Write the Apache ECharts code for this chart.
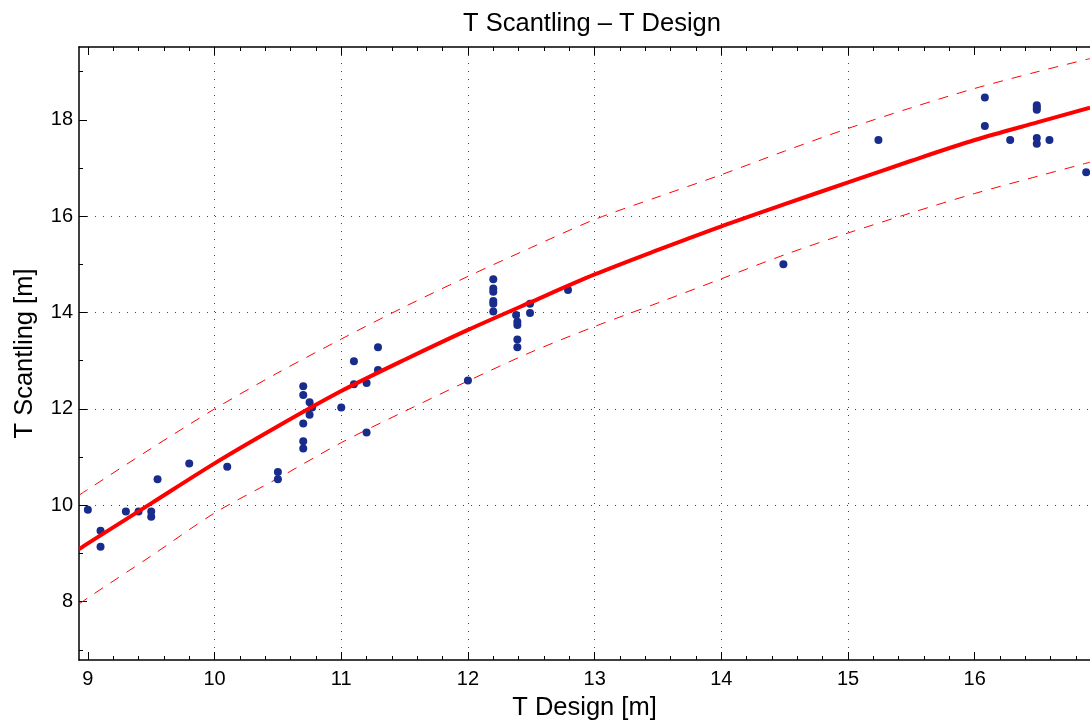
<!DOCTYPE html>
<html>
<head>
<meta charset="utf-8">
<script src="https://cdn.jsdelivr.net/npm/echarts@6/dist/echarts.min.js"></script>
<style>
html,body{margin:0;padding:0;background:#fff;}
#c{width:1090px;height:720px;}
</style>
</head>
<body>
<div id="c"></div>
<script>
// Measured points: T Design [m] vs T Scantling [m]
const pointX = [9.0, 9.1, 9.1, 9.3, 9.4, 9.5, 9.5, 9.55, 9.8, 10.1, 10.5, 10.5,
  10.7, 10.7, 10.75, 10.77, 10.75, 10.7, 10.7, 10.7, 11.0, 11.1, 11.1, 11.2, 11.2, 11.29, 11.29,
  12.0, 12.2, 12.2, 12.2, 12.2, 12.2, 12.2, 12.38, 12.39, 12.39, 12.39, 12.39, 12.49, 12.49, 12.79,
  14.49, 15.24, 16.08, 16.08, 16.28, 16.49, 16.49, 16.49, 16.49, 16.49, 16.59, 16.88];
const pointY = [9.91, 9.47, 9.14, 9.87, 9.87, 9.87, 9.76, 10.54, 10.87, 10.80, 10.69, 10.54,
  12.47, 12.29, 12.14, 12.03, 11.88, 11.70, 11.33, 11.18, 12.03, 12.99, 12.51, 12.54, 11.51, 13.28, 12.81,
  12.59, 14.69, 14.50, 14.43, 14.24, 14.18, 14.02, 13.95, 13.81, 13.74, 13.44, 13.28, 14.18, 13.99, 14.47,
  15.00, 17.58, 18.46, 17.87, 17.58, 18.30, 18.25, 18.21, 17.62, 17.50, 17.58, 16.91];

// Fitted curve and prediction band
const fitX = [8.93, 9.0, 9.5, 10.0, 10.5, 11.0, 11.5, 12.0, 12.5, 13.0, 13.5, 14.0, 14.5, 15.0, 15.5, 16.0, 16.5, 16.91];
const fitY = [9.09, 9.21, 10.04, 10.87, 11.64, 12.37, 13.02, 13.64, 14.22, 14.79, 15.30, 15.79, 16.25, 16.70, 17.15, 17.58, 17.95, 18.25];
const upperY = [10.21, 10.33, 11.18, 12.00, 12.75, 13.45, 14.12, 14.75, 15.35, 15.93, 16.40, 16.86, 17.35, 17.82, 18.25, 18.65, 19.00, 19.27];
const lowerY = [7.95, 8.08, 8.95, 9.84, 10.56, 11.30, 11.95, 12.58, 13.18, 13.71, 14.20, 14.70, 15.20, 15.65, 16.07, 16.47, 16.83, 17.12];

// Axis ticks
const xMajorTicks = [9, 10, 11, 12, 13, 14, 15, 16];
const yMajorTicks = [8, 10, 12, 14, 16, 18];
const yMinorTicks = [7, 9, 11, 13, 15, 17, 19];
const X_MIN = 8.93, X_MAX = 16.91, Y_MIN = 6.79, Y_MAX = 19.51;

const xMinorTicks = [];
for (let i = 0; i <= 40; i++) {
  const v = Math.round((9 + i * 0.2) * 10) / 10;
  if (v > X_MAX) break;
  if (Math.abs(v - Math.round(v)) > 1e-6) xMinorTicks.push(v);
}

const FONT = "'Liberation Sans', Arial, Helvetica, sans-serif";
const pair = (xs, ys) => xs.map((x, i) => [x, ys[i]]);

function xAx(opts) {
  return Object.assign({
    type: 'value', min: X_MIN, max: X_MAX, gridIndex: 0,
    axisLine: { show: false }, axisLabel: { show: false }, splitLine: { show: false },
    axisTick: { show: false }
  }, opts);
}
function yAx(opts) {
  return Object.assign({
    type: 'value', min: Y_MIN, max: Y_MAX, gridIndex: 0,
    axisLine: { show: false }, axisLabel: { show: false }, splitLine: { show: false },
    axisTick: { show: false }
  }, opts);
}

const chart = echarts.init(document.getElementById('c'), null, { renderer: 'canvas' });
chart.setOption({
  animation: false,
  backgroundColor: '#fff',
  textStyle: { fontFamily: FONT },
  title: {
    text: 'T Scantling \u2013 T Design',
    left: 587, top: 6, textAlign: 'center',
    textStyle: { fontFamily: FONT, fontSize: 25.5, fontWeight: 'normal', color: '#000' }
  },
  grid: { left: 79, right: 0, top: 47, bottom: 60, containLabel: false, outerBoundsMode: 'none' },
  xAxis: [
    xAx({
      position: 'bottom',
      name: 'T Design [m]', nameLocation: 'middle', nameGap: 35,
      nameTextStyle: { fontFamily: FONT, fontSize: 25.5, color: '#000' },
      axisLine: { show: true, onZero: false, lineStyle: { color: '#000', width: 1.5 } },
      axisTick: { show: true, inside: true, length: 8, customValues: xMajorTicks, lineStyle: { color: '#000', width: 1 } },
      axisLabel: { show: true, customValues: xMajorTicks, margin: 9, fontFamily: FONT, fontSize: 20, color: '#000' },
      splitLine: { show: true, showMinLine: false, showMaxLine: false, lineStyle: { color: '#444', width: 1, type: [1, 7] } }
    }),
    xAx({
      position: 'bottom',
      axisTick: { show: true, inside: true, length: 4, customValues: xMinorTicks, lineStyle: { color: '#000', width: 1 } }
    }),
    xAx({
      position: 'top',
      axisLine: { show: true, onZero: false, lineStyle: { color: '#000', width: 1.5 } },
      axisTick: { show: true, inside: true, length: 8, customValues: xMajorTicks, lineStyle: { color: '#000', width: 1 } }
    }),
    xAx({
      position: 'top',
      axisTick: { show: true, inside: true, length: 4, customValues: xMinorTicks, lineStyle: { color: '#000', width: 1 } }
    })
  ],
  yAxis: [
    yAx({
      position: 'left',
      name: 'T Scantling [m]', nameLocation: 'middle', nameGap: 41, nameRotate: 90,
      nameTextStyle: { fontFamily: FONT, fontSize: 25.5, color: '#000' },
      axisLine: { show: true, onZero: false, lineStyle: { color: '#000', width: 1.5 } },
      axisTick: { show: true, inside: true, length: 8, customValues: yMajorTicks, lineStyle: { color: '#000', width: 1 } },
      axisLabel: { show: true, customValues: yMajorTicks, margin: 6, fontFamily: FONT, fontSize: 20, color: '#000' },
      splitLine: { show: true, showMinLine: false, showMaxLine: false, lineStyle: { color: '#444', width: 1, type: [1, 7] } }
    }),
    yAx({
      position: 'left',
      axisTick: { show: true, inside: true, length: 4, customValues: yMinorTicks, lineStyle: { color: '#000', width: 1 } }
    })
  ],
  series: [
    {
      type: 'line', name: 'upper', xAxisIndex: 0, yAxisIndex: 0,
      data: pair(fitX, upperY), smooth: 0.3, showSymbol: false, symbol: 'none',
      lineStyle: { color: '#ff0000', width: 1, type: [10, 9] }, z: 3
    },
    {
      type: 'line', name: 'lower', xAxisIndex: 0, yAxisIndex: 0,
      data: pair(fitX, lowerY), smooth: 0.3, showSymbol: false, symbol: 'none',
      lineStyle: { color: '#ff0000', width: 1, type: [10, 9] }, z: 3
    },
    {
      type: 'scatter', name: 'data', xAxisIndex: 0, yAxisIndex: 0,
      data: pair(pointX, pointY), symbol: 'circle', symbolSize: 8,
      itemStyle: { color: '#182c8c', opacity: 1 }, z: 4
    },
    {
      type: 'line', name: 'fit', xAxisIndex: 0, yAxisIndex: 0,
      data: pair(fitX, fitY), smooth: 0.3, showSymbol: false, symbol: 'none',
      lineStyle: { color: '#ff0000', width: 4 }, z: 5
    }
  ]
});
</script>
</body>
</html>
